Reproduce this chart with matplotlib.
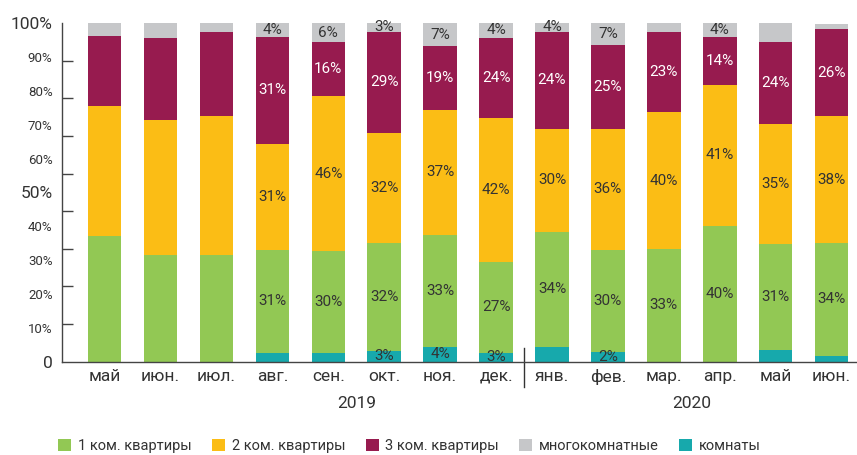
import matplotlib.pyplot as plt
import numpy as np

plt.rcParams['font.family'] = ['Roboto', 'DejaVu Sans']

months = ["май", "июн.", "июл.", "авг.", "сен.", "окт.", "ноя.", "дек.",
          "янв.", "фев.", "мар.", "апр.", "май", "июн."]
years = ["2019", "2020"]

# shares, %
rooms = [0, 0, 0, 2.6, 2.6, 3.2, 4.3, 2.6, 4.3, 2.9, 0, 0, 3.5, 1.8]
one_room = [37.2, 31.5, 31.5, 30.4, 30.1, 31.9, 33.2, 26.9, 34.1, 30.1, 33.3, 40.2, 31.3, 33.3]
two_room = [38.3, 39.9, 41.0, 31.3, 45.7, 32.4, 36.8, 42.5, 30.3, 35.7, 40.4, 41.5, 35.4, 37.4]
three_room = [20.7, 24.2, 24.8, 31.6, 16.0, 29.9, 18.9, 23.6, 28.7, 24.8, 23.7, 14.2, 24.2, 25.7]
multi_room = [3.8, 4.4, 2.7, 4.1, 5.6, 2.6, 6.8, 4.4, 2.6, 6.5, 2.6, 4.1, 5.6, 1.5]

# printed labels (None = no label on the chart)
rooms_lbl = [None, None, None, None, None, "3%", "4%", "3%", None, "2%", None, None, None, None]
one_lbl = [None, None, None, "31%", "30%", "32%", "33%", "27%", "34%", "30%", "33%", "40%", "31%", "34%"]
two_lbl = [None, None, None, "31%", "46%", "32%", "37%", "42%", "30%", "36%", "40%", "41%", "35%", "38%"]
three_lbl = [None, None, None, "31%", "16%", "29%", "19%", "24%", "24%", "25%", "23%", "14%", "24%", "26%"]
multi_lbl = [None, None, None, "4%", "6%", "3%", "7%", "4%", "4%", "7%", None, "4%", None, None]

series = [
    ("комнаты", rooms, rooms_lbl, "#17a9ac", "#333333"),
    ("1 ком. квартиры", one_room, one_lbl, "#92c854", "#333333"),
    ("2 ком. квартиры", two_room, two_lbl, "#fbbd15", "#333333"),
    ("3 ком. квартиры", three_room, three_lbl, "#971b4f", "white"),
    ("многокомнатные", multi_room, multi_lbl, "#c6c7c9", "#333333"),
]
legend_order = ["1 ком. квартиры", "2 ком. квартиры", "3 ком. квартиры", "многокомнатные", "комнаты"]

fig = plt.figure(figsize=(8.57, 4.55), dpi=100)
ax = fig.add_axes([0.0727, 0.205, 0.927, 0.7444])

x = np.arange(len(months))
bottom = np.zeros(len(months))
handles = {}
for name, vals, lbls, color, tcolor in series:
    vals = np.array(vals)
    bars = ax.bar(x, vals, 0.6, bottom=bottom, color=color, label=name, zorder=2)
    handles[name] = bars
    for i, t in enumerate(lbls):
        if t is None:
            continue
        ax.text(x[i], bottom[i] + vals[i] / 2, t, ha='center', va='center',
                fontsize=11, color=tcolor, zorder=3)
    bottom += vals

ax.set_xlim(-0.757, 13.45)
ax.set_ylim(0, 100)

for s in ['top', 'right']:
    ax.spines[s].set_visible(False)
ax.spines['left'].set_color('#444444')
ax.spines['bottom'].set_color('#444444')
ax.spines['left'].set_linewidth(1.0)
ax.spines['bottom'].set_linewidth(1.0)

# y labels at every 10%, tick marks drawn at 9 even steps as in the original
yt = np.arange(0, 101, 10)
ylabels = ["0"] + ["%d%%" % v for v in yt[1:]]
ax.set_yticks(yt)
ax.set_yticklabels(ylabels)
ax.tick_params(axis='y', which='major', length=0, pad=7, labelsize=9.5, labelcolor='#333333')
for lab, v in zip(ax.get_yticklabels(), yt):
    if v in (0, 50, 100):
        lab.set_fontsize(12.5)
ax.set_yticks(np.linspace(0, 100, 10), minor=True)
ax.tick_params(axis='y', which='minor', direction='in', length=8, width=1.0, color='#444444')

ax.set_xticks(x)
ax.set_xticklabels(months)
ax.tick_params(axis='x', length=0, pad=5, labelsize=12.5, labelcolor='#333333')

# year captions and the divider between years
trans = ax.get_xaxis_transform()
ax.text(4.5, -0.122, years[0], transform=trans, ha='center', va='center', fontsize=12.5, color='#333333')
ax.text(10.5, -0.122, years[1], transform=trans, ha='center', va='center', fontsize=12.5, color='#333333')
ax.plot([7.5, 7.5], [0.04, -0.075], transform=trans, color='#333333', linewidth=1.0, clip_on=False)

fig.legend([handles[n] for n in legend_order], legend_order, ncol=5, loc='lower left',
           bbox_to_anchor=(0.068, 0.004), frameon=False, fontsize=10.5,
           handlelength=0.9, handleheight=0.9, handletextpad=0.45,
           columnspacing=1.4, borderpad=0, borderaxespad=0, labelcolor='#333333')

fig.savefig("out.png", dpi=100)
